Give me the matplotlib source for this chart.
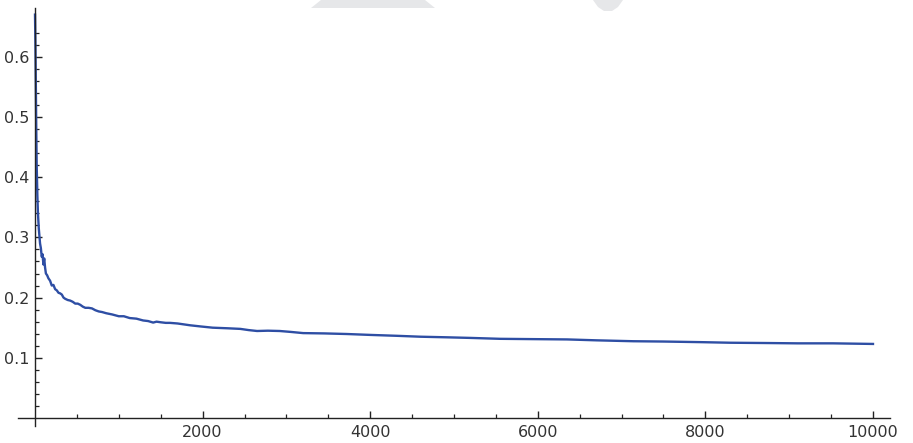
import matplotlib
matplotlib.use("Agg")
import matplotlib.pyplot as plt
from matplotlib.patches import Polygon
from matplotlib.ticker import FixedLocator

# running value
steps = [0, 5, 10, 15, 20, 28, 35, 45, 60, 70, 80, 90, 100, 110, 120, 130,
         145, 160, 180, 200, 220, 240, 260, 280, 300, 320, 340, 360, 390,
         420, 450, 480, 510, 540, 570, 600, 640, 680, 720, 760, 800, 850,
         920, 1000, 1060, 1130, 1210, 1290, 1350, 1410, 1450, 1500, 1560,
         1610, 1700, 1850, 1980, 2120, 2300, 2450, 2550, 2650, 2780, 2920,
         3050, 3200, 3450, 3720, 4000, 4320, 4600, 4920, 5200, 5550, 5940,
         6350, 6700, 7140, 7500, 7940, 8300, 8740, 9100, 9520, 10000]
values = [0.67, 0.62, 0.55, 0.48, 0.42, 0.37, 0.34, 0.315, 0.29, 0.282,
          0.268, 0.272, 0.255, 0.265, 0.25, 0.24, 0.237, 0.232, 0.228, 0.22,
          0.221, 0.214, 0.212, 0.208, 0.207, 0.205, 0.2, 0.198, 0.196,
          0.195, 0.193, 0.19, 0.19, 0.188, 0.185, 0.183, 0.183, 0.182,
          0.179, 0.177, 0.176, 0.174, 0.172, 0.169, 0.169, 0.166, 0.165,
          0.162, 0.161, 0.1585, 0.16, 0.159, 0.158, 0.158, 0.157, 0.154,
          0.152, 0.150, 0.149, 0.148, 0.146, 0.1445, 0.145, 0.1445, 0.143,
          0.141, 0.1405, 0.1395, 0.138, 0.1365, 0.135, 0.134, 0.133, 0.1315,
          0.131, 0.1305, 0.129, 0.1275, 0.127, 0.126, 0.125, 0.1245, 0.124,
          0.124, 0.123]

x_major = [2000, 4000, 6000, 8000, 10000]
x_minor = [500 * k for k in range(1, 20) if (500 * k) % 2000 != 0]
y_major = [0.1, 0.2, 0.3, 0.4, 0.5, 0.6]
y_minor = [round(0.02 * k, 2) for k in range(1, 33) if k % 5 != 0]

W, H = 913, 443
fig = plt.figure(figsize=(W / 100, H / 100), dpi=100)

# faint watermark shapes at the top edge
def px_poly(pts):
    return [(px / W, 1 - py / H) for px, py in pts]

fig.patches.append(Polygon(px_poly([(321, 0), (425, 0), (435, 8), (311, 8)]),
                           closed=True, transform=fig.transFigure,
                           facecolor="#e6e7e9", edgecolor="none"))
fig.patches.append(Polygon(px_poly([(593, 0), (623, 0), (618, 7), (612, 11),
                                    (604, 11), (598, 7)]),
                           closed=True, transform=fig.transFigure,
                           facecolor="#e6e7e9", edgecolor="none"))

ax = fig.add_axes([18 / W, 17 / H, 872 / W, 418 / H])
ax.plot(steps, values, color="#2e4ea4", lw=1.7)

ax.set_xlim(-203, 10203)
ax.set_ylim(-0.0133, 0.681)

for side in ("top", "right"):
    ax.spines[side].set_visible(False)
ax.spines["left"].set_position(("data", 0))
ax.spines["bottom"].set_position(("data", 0))
for side in ("left", "bottom"):
    ax.spines[side].set_color("#222222")
    ax.spines[side].set_linewidth(1.0)

ax.xaxis.set_major_locator(FixedLocator(x_major))
ax.xaxis.set_minor_locator(FixedLocator(x_minor))
ax.yaxis.set_major_locator(FixedLocator(y_major))
ax.yaxis.set_minor_locator(FixedLocator(y_minor))
ax.set_xticklabels([str(v) for v in x_major])
ax.set_yticklabels([f"{v:.1f}" for v in y_major])

ax.tick_params(which="major", direction="in", length=5, width=1.0,
               color="#222222", labelsize=11.5, labelcolor="#333333")
ax.tick_params(which="minor", direction="in", length=2.8, width=0.9,
               color="#222222")
ax.tick_params(axis="x", which="major", pad=5)
ax.tick_params(axis="y", which="major", pad=4)

ax.set_facecolor("none")
fig.savefig("out.png", dpi=100)
